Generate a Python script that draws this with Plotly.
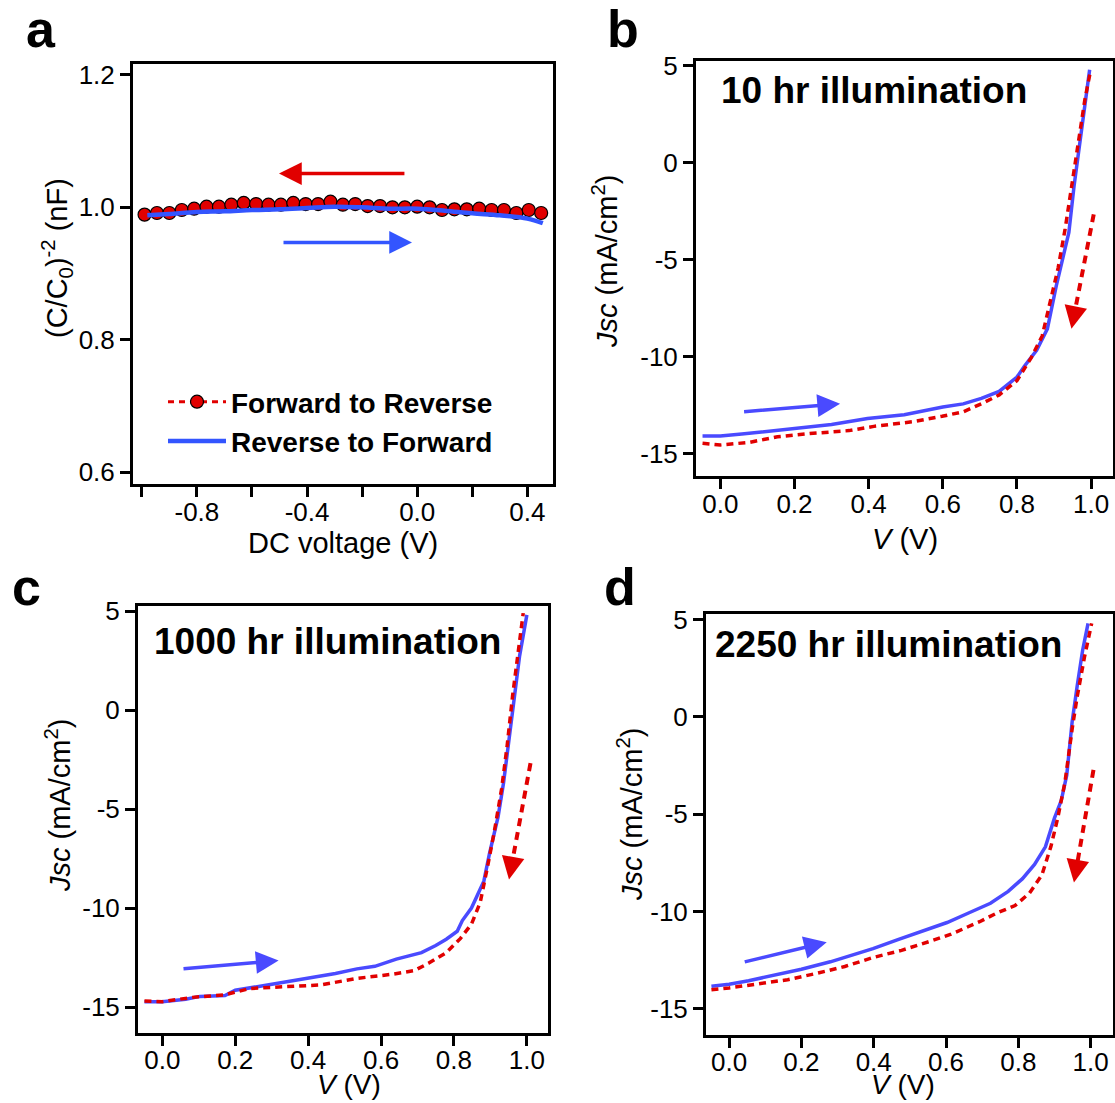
import plotly.graph_objects as go

# ---------------- data ----------------
# panel a : capacitance vs DC voltage
A_FWD_V = [-0.99, -0.945, -0.90, -0.855, -0.81, -0.765, -0.72, -0.675, -0.63, -0.585,
           -0.54, -0.495, -0.45, -0.405, -0.36, -0.315, -0.27, -0.225, -0.18, -0.135,
           -0.09, -0.045, 0.0, 0.045, 0.09, 0.135, 0.18, 0.225, 0.27, 0.315, 0.36, 0.405, 0.45]
A_FWD_C = [0.989, 0.9915, 0.9915, 0.996, 0.998, 1.001, 1.001, 1.004, 1.0067, 1.005,
           1.004, 1.004, 1.0067, 1.005, 1.005, 1.0086, 1.004, 1.005, 1.002, 1.002,
           1.0, 1.0, 1.001, 1.0, 0.996, 0.997, 0.997, 0.998, 0.996, 0.996, 0.9915, 0.996, 0.9915]
A_REV_V = [-0.98, -0.9, -0.8, -0.7, -0.6, -0.5, -0.4, -0.3, -0.2, -0.1, 0.0, 0.1, 0.2, 0.3, 0.4, 0.456]
A_REV_C = [0.988, 0.990, 0.993, 0.994, 0.996, 0.997, 0.999, 1.001, 1.0, 0.998, 0.998, 0.995, 0.991, 0.988, 0.983, 0.976]

# panel b : 10 hr illumination
B_REV_V = [-0.048, 0.0, 0.058, 0.106, 0.198, 0.30, 0.397, 0.496, 0.60, 0.655, 0.704, 0.752,
           0.80, 0.82, 0.853, 0.882, 0.906, 0.925, 0.94, 0.954, 0.969, 0.983, 0.996]
B_REV_J = [-14.1, -14.1, -14.0, -13.9, -13.73, -13.5, -13.2, -13.0, -12.6, -12.44, -12.16, -11.8,
           -11.06, -10.5, -9.68, -8.57, -6.36, -4.88, -3.6, -1.2, 1.01, 3.04, 4.79]
B_FWD_V = [-0.048, 0.0, 0.077, 0.154, 0.241, 0.347, 0.414, 0.52, 0.598, 0.655, 0.704, 0.752,
           0.80, 0.839, 0.868, 0.891, 0.911, 0.93, 0.945, 0.964, 0.983, 0.998]
B_FWD_J = [-14.47, -14.56, -14.43, -14.14, -13.97, -13.82, -13.6, -13.36, -13.08, -12.85, -12.44, -11.98,
           -11.24, -10.04, -8.94, -7.1, -5.44, -3.41, -1.57, 1.01, 3.23, 4.7]

# panel c : 1000 hr illumination
C_REV_V = [-0.049, 0.0, 0.064, 0.103, 0.172, 0.20, 0.26, 0.319, 0.399, 0.475, 0.534, 0.583, 0.642,
           0.711, 0.75, 0.779, 0.809, 0.823, 0.848, 0.882, 0.897, 0.921, 0.936, 0.951, 0.965, 0.98, 1.0]
C_REV_J = [-14.72, -14.72, -14.59, -14.45, -14.41, -14.14, -13.96, -13.78, -13.54, -13.29, -13.06, -12.93, -12.57,
           -12.24, -11.88, -11.56, -11.16, -10.62, -9.99, -8.63, -7.28, -5.38, -3.67, -1.41, 0.76, 2.74, 4.82]
C_FWD_V = [-0.049, 0.0, 0.083, 0.172, 0.24, 0.338, 0.436, 0.534, 0.632, 0.691, 0.73, 0.779, 0.818,
           0.848, 0.872, 0.892, 0.911, 0.931, 0.946, 0.961, 0.975, 0.99]
C_FWD_J = [-14.68, -14.72, -14.5, -14.37, -14.05, -13.96, -13.87, -13.54, -13.33, -13.15, -12.78, -12.24, -11.52,
           -10.8, -9.71, -7.91, -6.1, -3.94, -1.77, 0.76, 2.93, 4.91]

# panel d : 2250 hr illumination
D_REV_V = [-0.049, 0.0, 0.054, 0.123, 0.20, 0.28, 0.349, 0.398, 0.467, 0.555, 0.603, 0.664, 0.723,
           0.772, 0.811, 0.845, 0.875, 0.90, 0.919, 0.934, 0.949, 0.963, 0.978, 0.993]
D_REV_J = [-13.83, -13.73, -13.55, -13.28, -12.96, -12.58, -12.17, -11.9, -11.44, -10.89, -10.56, -10.06, -9.57,
           -8.96, -8.32, -7.58, -6.67, -5.2, -4.28, -2.99, -0.24, 1.6, 3.43, 4.81]
D_FWD_V = [-0.049, 0.0, 0.074, 0.162, 0.241, 0.32, 0.398, 0.477, 0.555, 0.614, 0.693, 0.742, 0.791,
           0.831, 0.865, 0.89, 0.909, 0.929, 0.949, 0.963, 0.983, 1.003]
D_FWD_J = [-14.01, -13.92, -13.73, -13.5, -13.18, -12.82, -12.36, -11.99, -11.53, -11.16, -10.52, -10.06, -9.69,
           -9.05, -8.13, -6.67, -5.2, -3.36, -0.61, 1.05, 3.07, 4.81]

# tick labels
A_XTICKS = [-1.0, -0.8, -0.6, -0.4, -0.2, 0.0, 0.2, 0.4]
A_XTEXT = ["", "-0.8", "", "-0.4", "", "0.0", "", "0.4"]
A_YTICKS = [0.6, 0.8, 1.0, 1.2]
A_YTEXT = ["0.6", "0.8", "1.0", "1.2"]
J_XTICKS = [0.0, 0.2, 0.4, 0.6, 0.8, 1.0]
J_XTEXT = ["0.0", "0.2", "0.4", "0.6", "0.8", "1.0"]
J_YTICKS = [-15, -10, -5, 0, 5]
J_YTEXT = ["-15", "-10", "-5", "0", "5"]

LEGEND_NAMES = ["Forward to Reverse", "Reverse to Forward"]
PANEL_TITLES = ["10 hr illumination", "1000 hr illumination", "2250 hr illumination"]
PANEL_LETTERS = ["a", "b", "c", "d"]
X_TITLES = ["DC voltage (V)", "<i>V</i> (V)", "<i>V</i> (V)", "<i>V</i> (V)"]
Y_TITLES = ["(C/C<sub>0</sub>)<sup>-2</sup> (nF)", "<i>Jsc</i> (mA/cm<sup>2</sup>)",
            "<i>Jsc</i> (mA/cm<sup>2</sup>)", "<i>Jsc</i> (mA/cm<sup>2</sup>)"]

# direction arrows: (tail_x, tail_y, tip_x, tip_y)
A_RED_ARROW = (-0.041, 1.051, -0.502, 1.051)
A_BLUE_ARROW = (-0.491, 0.947, -0.019, 0.947)
BLUE_ARROWS = [(0.06, -12.85, 0.323, -12.44), (0.054, -13.06, 0.319, -12.64), (0.039, -12.6, 0.27, -11.57)]
RED_ARROWS = [(1.007, -2.67, 0.947, -8.57), (1.01, -2.67, 0.951, -8.54), (1.008, -2.72, 0.954, -8.5)]

# ---------------- style ----------------
FONT = "Liberation Sans, Arial, Helvetica, sans-serif"
RED = "#E10000"
BLUE_A = "#3355FF"
BLUE = "#4A4AFF"
W, H = 1115, 1103

def px_dom(x0, x1, y0, y1):
    return [x0 / W, x1 / W], [1 - y1 / H, 1 - y0 / H]

doms = [px_dom(133, 553, 64, 484), px_dom(696, 1113, 61, 476),
        px_dom(138, 548, 606, 1033), px_dom(706, 1113, 614, 1035)]
xranges = [[-1.032, 0.493], [-0.0656, 1.059], [-0.0667, 1.058], [-0.064, 1.062]]
yranges = [[0.582, 1.2166], [-16.16, 5.24], [-16.3, 5.27], [-16.34, 5.29]]

fig = go.Figure()

# panel a traces
fig.add_trace(go.Scatter(x=A_FWD_V, y=A_FWD_C, mode="lines+markers", name=LEGEND_NAMES[0],
                         line=dict(color=RED, width=3, dash="6px,5px"),
                         marker=dict(size=13, color=RED, line=dict(color="black", width=1.2)),
                         xaxis="x", yaxis="y"))
fig.add_trace(go.Scatter(x=A_REV_V, y=A_REV_C, mode="lines", name=LEGEND_NAMES[1],
                         line=dict(color=BLUE_A, width=4.5, shape="spline"),
                         xaxis="x", yaxis="y"))

jdata = [(B_REV_V, B_REV_J, B_FWD_V, B_FWD_J),
         (C_REV_V, C_REV_J, C_FWD_V, C_FWD_J),
         (D_REV_V, D_REV_J, D_FWD_V, D_FWD_J)]
for i, (rv, rj, fv, fj) in enumerate(jdata):
    k = str(i + 2)
    fig.add_trace(go.Scatter(x=rv, y=rj, mode="lines", showlegend=False,
                             line=dict(color=BLUE, width=3.5),
                             xaxis="x" + k, yaxis="y" + k))
    fig.add_trace(go.Scatter(x=fv, y=fj, mode="lines", showlegend=False,
                             line=dict(color=RED, width=3.5, dash="7px,5px"),
                             xaxis="x" + k, yaxis="y" + k))

tickfont = dict(family=FONT, size=26, color="black")
titlefont = dict(family=FONT, size=29, color="black")
axis_common = dict(showline=True, linecolor="black", linewidth=3, mirror=True,
                   ticks="outside", ticklen=10, tickwidth=3, tickcolor="black",
                   showgrid=False, zeroline=False, tickfont=tickfont, automargin=False)

layout = dict(template="none", width=W, height=H, margin=dict(l=0, r=0, t=0, b=0, autoexpand=False),
              paper_bgcolor="white", plot_bgcolor="white",
              font=dict(family=FONT, color="black"),
              showlegend=True,
              legend=dict(x=163 / W, y=1 - 377 / H, xanchor="left", yanchor="top",
                          bgcolor="rgba(0,0,0,0)", borderwidth=0, itemwidth=58,
                          font=dict(family=FONT, size=28, color="black", weight="bold"),
                          tracegroupgap=0))

for i in range(4):
    sfx = "" if i == 0 else str(i + 1)
    xd, yd = doms[i]
    xt = (A_XTICKS, A_XTEXT) if i == 0 else (J_XTICKS, J_XTEXT)
    yt = (A_YTICKS, A_YTEXT) if i == 0 else (J_YTICKS, J_YTEXT)
    layout["xaxis" + sfx] = dict(axis_common, domain=xd, range=xranges[i],
                                 anchor="y" + sfx, tickvals=xt[0], ticktext=xt[1],
                                 ticklabelstandoff=-8 if i >= 2 else -7)
    layout["yaxis" + sfx] = dict(axis_common, domain=yd, range=yranges[i],
                                 anchor="x" + sfx, tickvals=yt[0], ticktext=yt[1])

fig.update_layout(**layout)

annotations = []
shapes = []

# axis titles (placed as text next to each panel)
xtitle_pos = [(343, 543), (905, 539), (349, 1084), (903, 1084)]
xtitle_size = [29, 29, 28, 28]
ytitle_pos = [(57, 258), (605, 262), (58, 806), (630, 815)]
for i in range(4):
    annotations.append(dict(text=X_TITLES[i], xref="paper", yref="paper",
                            x=xtitle_pos[i][0] / W, y=1 - xtitle_pos[i][1] / H,
                            xanchor="center", yanchor="middle", showarrow=False,
                            font=dict(titlefont, size=xtitle_size[i])))
    annotations.append(dict(text=Y_TITLES[i], xref="paper", yref="paper", textangle=-90,
                            x=ytitle_pos[i][0] / W, y=1 - ytitle_pos[i][1] / H,
                            xanchor="center", yanchor="middle", showarrow=False, font=titlefont))

# panel letters
letter_pos = [(24, 60), (605, 60), (10, 618), (602, 618)]
for letter, (lx, ly) in zip(PANEL_LETTERS, letter_pos):
    annotations.append(dict(text="<b>%s</b>" % letter, xref="paper", yref="paper",
                            x=lx / W, y=1 - ly / H, xanchor="left", yanchor="bottom",
                            showarrow=False, font=dict(family=FONT, size=52, color="black")))
# illumination titles
title_pos = [(719, 91), (152, 641), (713, 644)]
for t, (tx, ty) in zip(PANEL_TITLES, title_pos):
    annotations.append(dict(text="<b>%s</b>" % t, xref="paper", yref="paper",
                            x=tx / W, y=1 - ty / H, xanchor="left", yanchor="middle",
                            showarrow=False, font=dict(family=FONT, size=37, color="black")))

# panel a arrows
for (tx0, ty0, tx1, ty1), col in [(A_RED_ARROW, RED), (A_BLUE_ARROW, BLUE_A)]:
    annotations.append(dict(x=tx1, y=ty1, ax=tx0, ay=ty0, xref="x", yref="y", axref="x", ayref="y",
                            text="", showarrow=True, arrowhead=2, arrowsize=1.3, arrowwidth=3.5,
                            arrowcolor=col, standoff=0))
for i in range(3):
    k = str(i + 2)
    bx0, by0, bx1, by1 = BLUE_ARROWS[i]
    annotations.append(dict(x=bx1, y=by1, ax=bx0, ay=by0, xref="x" + k, yref="y" + k,
                            axref="x" + k, ayref="y" + k, text="", showarrow=True,
                            arrowhead=2, arrowsize=1.3, arrowwidth=3.5, arrowcolor=BLUE, standoff=0))
    rx0, ry0, rx1, ry1 = RED_ARROWS[i]
    f = 0.15
    mx, my = rx1 + f * (rx0 - rx1), ry1 + f * (ry0 - ry1)
    shapes.append(dict(type="line", xref="x" + k, yref="y" + k, x0=rx0, y0=ry0, x1=mx, y1=my,
                       line=dict(color=RED, width=4, dash="8px,6px")))
    annotations.append(dict(x=rx1, y=ry1, ax=mx, ay=my, xref="x" + k, yref="y" + k,
                            axref="x" + k, ayref="y" + k, text="", showarrow=True,
                            arrowhead=2, arrowsize=1.3, arrowwidth=3.5, arrowcolor=RED, standoff=0))

fig.update_layout(annotations=annotations, shapes=shapes)
fig.write_html("out.html")
